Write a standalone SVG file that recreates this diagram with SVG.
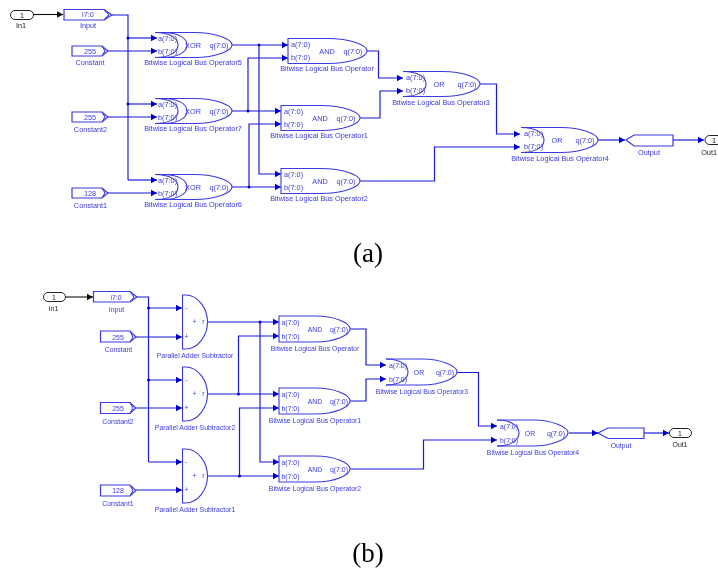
<svg xmlns="http://www.w3.org/2000/svg" width="718" height="572" viewBox="0 0 718 572">
<style>
text{font-family:"Liberation Sans",Arial,sans-serif;fill:#3a3ae0;font-size:7.3px;text-anchor:middle}
.s text{font-size:6.9px}
.sh{fill:none;stroke:#3a3ae0;stroke-width:1.1}
.box{fill:#fff;stroke:#3a3ae0;stroke-width:1.2}
.pill{fill:#fff;stroke:#222;stroke-width:1}
.w{fill:none;stroke:#1c1cd8;stroke-width:1.2}
.k{fill:none;stroke:#111;stroke-width:1.1}
.d{fill:#0000cc}
.cap{font-family:"Liberation Serif","Times New Roman",serif;fill:#000;font-size:27px}
.pt{fill:#222;font-size:7.3px}
</style>
<defs>
<filter id="soft" x="0" y="0" width="100%" height="100%"><feGaussianBlur stdDeviation="0.35"/></filter>
<marker id="ab" markerUnits="userSpaceOnUse" markerWidth="8" markerHeight="8" refX="6.500" refY="4" orient="auto"><path d="M0 0.500L6.500 4L0 7.500Z" fill="#0000cc"/></marker>
<marker id="ak" markerUnits="userSpaceOnUse" markerWidth="8" markerHeight="8" refX="6.500" refY="4" orient="auto"><path d="M0 0.500L6.500 4L0 7.500Z" fill="#111"/></marker>
<path id="outer" class="sh" d="M0 -12.5H40C60 -12.5 77 -6 77 0C77 6 60 12.5 40 12.5H0"/>
<path id="arc1" class="sh" d="M0 -12.5C15 -12.5 23 -7 23 0C23 7 15 12.5 0 12.5"/>
<path id="arc2" class="sh" d="M8 -12.5C23 -12.5 32 -7 32 0C32 7 23 12.5 8 12.5"/>
<path id="and" class="sh" d="M0 -12.5H40C62 -12.5 79 -6 79 0C79 6 62 12.5 40 12.5H0Z"/>
<path id="andS" class="sh" d="M0 -13H36C56 -13 71 -6 71 0C71 6 56 13 36 13H0Z"/>
<path id="outerS" class="sh" d="M0 -13H36C55 -13 71 -6 71 0C71 6 55 13 36 13H0"/>
<path id="arc1S" class="sh" d="M0 -13C14 -13 22 -7 22 0C22 7 14 13 0 13"/>
<path id="add" class="sh" d="M0 -27H3C16 -27 25 -13 25 0C25 13 16 27 3 27H0Z"/>
</defs>
<g filter="url(#soft)">
<g id="connectors-a">
<path class="k" marker-end="url(#ak)" d="M33 14.5H63"/>
<path class="w" d="M112 15H128V180"/>
<path class="w" marker-end="url(#ab)" d="M128 38H157"/>
<path class="w" marker-end="url(#ab)" d="M128 104H157"/>
<path class="w" marker-end="url(#ab)" d="M128 180H157"/>
<path class="w" marker-end="url(#ab)" d="M108 51H157"/>
<path class="w" marker-end="url(#ab)" d="M108 117H157"/>
<path class="w" marker-end="url(#ab)" d="M108 193H157"/>
<path class="w" marker-end="url(#ab)" d="M232 45H288"/>
<path class="w" marker-end="url(#ab)" d="M259 45V174H281"/>
<path class="w" marker-end="url(#ab)" d="M232 111H281"/>
<path class="w" marker-end="url(#ab)" d="M248 111V58H288"/>
<path class="w" marker-end="url(#ab)" d="M232 187H281"/>
<path class="w" marker-end="url(#ab)" d="M249 187V124H281"/>
<path class="w" marker-end="url(#ab)" d="M367 51H378.500V78H403"/>
<path class="w" marker-end="url(#ab)" d="M360 118H380V91H403"/>
<path class="w" marker-end="url(#ab)" d="M360 181H434.500V147H520"/>
<path class="w" marker-end="url(#ab)" d="M480 84H496.500V134H520"/>
<path class="w" marker-end="url(#ab)" d="M598 140H625"/>
<path class="w" marker-end="url(#ab)" d="M673 140H704"/>
<circle class="d" cx="128" cy="38" r="1.5"/><circle class="d" cx="128" cy="104" r="1.5"/>
<circle class="d" cx="259" cy="45" r="1.5"/><circle class="d" cx="248" cy="111" r="1.5"/><circle class="d" cx="249" cy="187" r="1.5"/>
</g>
<g id="a-In1"><rect class="pill" x="10.500" y="10.500" width="23" height="9" rx="4.500"/><text class="pt" x="22" y="17.500">1</text><text class="pt" x="21" y="27.500">In1</text></g>
<g id="a-Input"><path class="box" d="M64 9.500H104L112 15L104 20H64Z"/><path class="sh" d="M104 9.500L109 15L104 20"/><text x="88" y="17">i7:0</text><text x="88" y="28">Input</text></g>
<g id="a-Constant"><path class="box" d="M72 46H102L108 51L102 56H72Z"/><path class="sh" d="M102 46L105 51L102 56"/><text x="90" y="53.500">255</text><text x="90" y="65">Constant</text></g>
<g id="a-Constant2"><path class="box" d="M72 112H102L108 117L102 122H72Z"/><path class="sh" d="M102 112L105 117L102 122"/><text x="90" y="119.500">255</text><text x="90.500" y="131.500">Constant2</text></g>
<g id="a-Constant1"><path class="box" d="M72 188H102L108 193L102 198H72Z"/><path class="sh" d="M102 188L105 193L102 198"/><text x="90" y="195.500">128</text><text x="90.500" y="208">Constant1</text></g>
<g id="a-Op5" transform="translate(155,45)"><use href="#outer"/><use href="#arc1"/><use href="#arc2"/><text x="3" y="-4.500" style="text-anchor:start">a(7:0)</text><text x="3" y="8.500" style="text-anchor:start">b(7:0)</text><text x="38" y="2.500">XOR</text><text x="64" y="2.500">q(7:0)</text><text x="38" y="19.500">Bitwise Logical Bus Operator5</text></g>
<g id="a-Op7" transform="translate(155,111)"><use href="#outer"/><use href="#arc1"/><use href="#arc2"/><text x="3" y="-4.500" style="text-anchor:start">a(7:0)</text><text x="3" y="8.500" style="text-anchor:start">b(7:0)</text><text x="38" y="2.500">XOR</text><text x="64" y="2.500">q(7:0)</text><text x="38" y="19.500">Bitwise Logical Bus Operator7</text></g>
<g id="a-Op6" transform="translate(155,187)"><use href="#outer"/><use href="#arc1"/><use href="#arc2"/><text x="3" y="-4.500" style="text-anchor:start">a(7:0)</text><text x="3" y="8.500" style="text-anchor:start">b(7:0)</text><text x="38" y="2.500">XOR</text><text x="64" y="2.500">q(7:0)</text><text x="38" y="19.500">Bitwise Logical Bus Operator6</text></g>
<g id="a-Op" transform="translate(288,51)"><use href="#and"/><text x="3" y="-4" style="text-anchor:start">a(7:0)</text><text x="3" y="9" style="text-anchor:start">b(7:0)</text><text x="39" y="2.500">AND</text><text x="65" y="2.500">q(7:0)</text><text x="39" y="20">Bitwise Logical Bus Operator</text></g>
<g id="a-Op1" transform="translate(281,118)"><use href="#and"/><text x="3" y="-4.500" style="text-anchor:start">a(7:0)</text><text x="3" y="8.500" style="text-anchor:start">b(7:0)</text><text x="39" y="2.500">AND</text><text x="65" y="2.500">q(7:0)</text><text x="38" y="19.500">Bitwise Logical Bus Operator1</text></g>
<g id="a-Op2" transform="translate(281,181)"><use href="#and"/><text x="3" y="-4.500" style="text-anchor:start">a(7:0)</text><text x="3" y="8.500" style="text-anchor:start">b(7:0)</text><text x="39" y="2.500">AND</text><text x="65" y="2.500">q(7:0)</text><text x="38" y="19.500">Bitwise Logical Bus Operator2</text></g>
<g id="a-Op3" transform="translate(403,84)"><use href="#outer"/><use href="#arc1"/><text x="3" y="-4.500" style="text-anchor:start">a(7:0)</text><text x="3" y="8.500" style="text-anchor:start">b(7:0)</text><text x="36" y="2.500">OR</text><text x="64" y="2.500">q(7:0)</text><text x="38" y="20.500">Bitwise Logical Bus Operator3</text></g>
<g id="a-Op4" transform="translate(521,140)"><use href="#outer"/><use href="#arc1"/><text x="3" y="-4.500" style="text-anchor:start">a(7:0)</text><text x="3" y="8.500" style="text-anchor:start">b(7:0)</text><text x="36" y="2.500">OR</text><text x="64" y="2.500">q(7:0)</text><text x="39" y="20.500">Bitwise Logical Bus Operator4</text></g>
<g id="a-Output"><path class="box" d="M626 140L634 135H673V146H634Z"/><text x="649" y="154.500">Output</text></g>
<g id="a-Out1"><rect class="pill" x="705" y="135.500" width="23" height="9" rx="4.500"/><text class="pt" x="714" y="143">1</text><text class="pt" x="717" y="154.500" style="text-anchor:end">Out1</text></g>
<text id="cap-a" class="cap" x="368" y="262">(a)</text>
<g id="connectors-b">
<path class="k" marker-end="url(#ak)" d="M65 297H93"/>
<path class="w" d="M137 297H148.500V462"/>
<path class="w" marker-end="url(#ab)" d="M148.500 308H182"/>
<path class="w" marker-end="url(#ab)" d="M148.500 380H182"/>
<path class="w" marker-end="url(#ab)" d="M148.500 462H182"/>
<path class="w" marker-end="url(#ab)" d="M136 337H182"/>
<path class="w" marker-end="url(#ab)" d="M136 408H182"/>
<path class="w" marker-end="url(#ab)" d="M136 490H182"/>
<path class="w" marker-end="url(#ab)" d="M207 322H279"/>
<path class="w" marker-end="url(#ab)" d="M260 322V462H279"/>
<path class="w" marker-end="url(#ab)" d="M207 394H279"/>
<path class="w" marker-end="url(#ab)" d="M238.500 394V336H279"/>
<path class="w" marker-end="url(#ab)" d="M207 476H279"/>
<path class="w" marker-end="url(#ab)" d="M239.500 476V408H279"/>
<path class="w" marker-end="url(#ab)" d="M350 329H366V365H386"/>
<path class="w" marker-end="url(#ab)" d="M350 401H366V379H386"/>
<path class="w" marker-end="url(#ab)" d="M350 469H423.500V440H497"/>
<path class="w" marker-end="url(#ab)" d="M457 372.500H478.500V426H497"/>
<path class="w" marker-end="url(#ab)" d="M569 433H598"/>
<path class="w" marker-end="url(#ab)" d="M644 433H669"/>
<circle class="d" cx="148.500" cy="308" r="1.500"/><circle class="d" cx="148.500" cy="380" r="1.500"/>
<circle class="d" cx="260" cy="322" r="1.500"/><circle class="d" cx="238.500" cy="394" r="1.500"/><circle class="d" cx="239.500" cy="476" r="1.500"/>
</g>
<g class="s">
<g id="b-In1"><rect class="pill" x="43.500" y="292.500" width="22" height="9" rx="4.500"/><text class="pt" x="54" y="299.500">1</text><text class="pt" x="53.500" y="310.500">In1</text></g>
<g id="b-Input"><path class="box" d="M93.500 291.500H130L137 297L130 302H93.500Z"/><path class="sh" d="M130 291.500L134 297L130 302"/><text x="116" y="299.500">i7:0</text><text x="116.500" y="311.500">Input</text></g>
<g id="b-Constant"><path class="box" d="M100.500 331H130L136 337L130 342H100.500Z"/><path class="sh" d="M130 331L133 337L130 342"/><text x="118" y="339.500">255</text><text x="118.500" y="351.500">Constant</text></g>
<g id="b-Constant2"><path class="box" d="M100.500 402.500H130L136 408L130 413.500H100.500Z"/><path class="sh" d="M130 402.500L133 408L130 413.500"/><text x="118" y="410.500">255</text><text x="118" y="423.500">Constant2</text></g>
<g id="b-Constant1"><path class="box" d="M100.500 485H130L136 490.500L130 496H100.500Z"/><path class="sh" d="M130 485L133 490.500L130 496"/><text x="118" y="493">128</text><text x="118" y="505.500">Constant1</text></g>
<g id="b-Add" transform="translate(182.500,322)"><use href="#add"/><text x="4" y="-12">-</text><text x="12" y="2">+</text><text x="21" y="2">r</text><text x="4" y="17">+</text><text x="12.500" y="36">Parallel Adder Subtractor</text></g>
<g id="b-Add2" transform="translate(182.500,394)"><use href="#add"/><text x="4" y="-12">-</text><text x="12" y="2">+</text><text x="21" y="2">r</text><text x="4" y="16">+</text><text x="12.500" y="35.500">Parallel Adder Subtractor2</text></g>
<g id="b-Add1" transform="translate(182.500,476)"><use href="#add"/><text x="4" y="-12">-</text><text x="12" y="2">+</text><text x="21" y="2">r</text><text x="4" y="16">+</text><text x="12.500" y="36">Parallel Adder Subtractor1</text></g>
<g id="b-Op" transform="translate(279,329)"><use href="#andS"/><text x="2.500" y="-4.500" style="text-anchor:start">a(7:0)</text><text x="2.500" y="9.500" style="text-anchor:start">b(7:0)</text><text x="36" y="2.500">AND</text><text x="60" y="2.500">q(7:0)</text><text x="36" y="21.500">Bitwise Logical Bus Operator</text></g>
<g id="b-Op1" transform="translate(279,401)"><use href="#andS"/><text x="2.500" y="-4.500" style="text-anchor:start">a(7:0)</text><text x="2.500" y="9.500" style="text-anchor:start">b(7:0)</text><text x="36" y="2.500">AND</text><text x="60" y="2.500">q(7:0)</text><text x="36" y="21.500">Bitwise Logical Bus Operator1</text></g>
<g id="b-Op2" transform="translate(279,469)"><use href="#andS"/><text x="2.500" y="-4.500" style="text-anchor:start">a(7:0)</text><text x="2.500" y="9.500" style="text-anchor:start">b(7:0)</text><text x="36" y="2.500">AND</text><text x="60" y="2.500">q(7:0)</text><text x="36" y="21.500">Bitwise Logical Bus Operator2</text></g>
<g id="b-Op3" transform="translate(386,372)"><use href="#outerS"/><use href="#arc1S"/><text x="3" y="-4.500" style="text-anchor:start">a(7:0)</text><text x="3" y="9.500" style="text-anchor:start">b(7:0)</text><text x="33" y="2.500">OR</text><text x="59" y="2.500">q(7:0)</text><text x="36" y="22">Bitwise Logical Bus Operator3</text></g>
<g id="b-Op4" transform="translate(497,433)"><use href="#outerS"/><use href="#arc1S"/><text x="3" y="-4.500" style="text-anchor:start">a(7:0)</text><text x="3" y="9.500" style="text-anchor:start">b(7:0)</text><text x="33" y="2.500">OR</text><text x="59" y="2.500">q(7:0)</text><text x="36" y="22">Bitwise Logical Bus Operator4</text></g>
<g id="b-Output"><path class="box" d="M598 433L608 428H644V438.500H608Z"/><text x="621" y="447.500">Output</text></g>
<g id="b-Out1"><rect class="pill" x="669.500" y="428.500" width="22" height="9" rx="4.500"/><text class="pt" x="680" y="435.500">1</text><text class="pt" x="680" y="447">Out1</text></g>
</g>
<text id="cap-b" class="cap" x="368" y="562">(b)</text>
</g>
</svg>
